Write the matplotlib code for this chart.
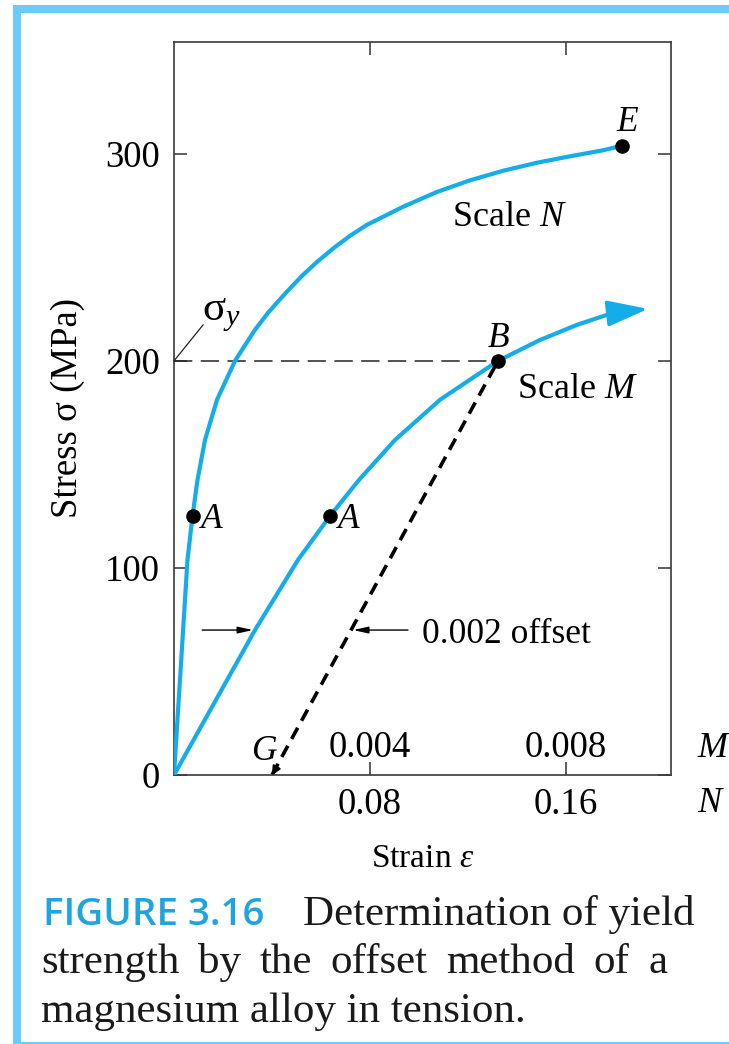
import matplotlib.pyplot as plt
from matplotlib.patches import Rectangle

plt.rcParams['font.family'] = ['Liberation Serif', 'DejaVu Serif']
plt.rcParams['mathtext.fontset'] = 'custom'
plt.rcParams['mathtext.rm'] = 'Liberation Serif'
plt.rcParams['mathtext.it'] = 'Liberation Serif:italic'

# --- data ---
# upper curve, strain on scale N
n_strain = [0, 0.00551, 0.00756, 0.00960, 0.01266, 0.01756, 0.02492, 0.02777,
            0.03308, 0.03839, 0.04493, 0.05187, 0.05841, 0.06535, 0.07189,
            0.07883, 0.09354, 0.10742, 0.12090, 0.13438, 0.14827, 0.16175,
            0.17523, 0.18299]
n_stress = [0, 103.9, 125.1, 142.5, 161.8, 181.2, 200.0, 205.3,
            215.0, 223.2, 231.9, 240.6, 247.8, 254.6, 260.4,
            265.7, 274.4, 281.6, 287.2, 291.8, 295.7, 298.8,
            301.7, 303.9]

# lower curve, strain on scale M (last point = arrow tip)
m_strain = [0, 0.001654, 0.002532, 0.003186, 0.003778, 0.004513, 0.005432,
            0.006617, 0.007475, 0.008230, 0.008966, 0.009680]
m_stress = [0, 70.0, 103.9, 125.1, 142.5, 161.8, 181.2,
            200.0, 210.1, 217.4, 223.2, 225.1]

m_to_n = 20            # 0.004 on scale M sits at 0.08 on scale N
offset = 0.002         # offset strain (scale M), point G
yield_stress = 200
n_ticks = [0.08, 0.16]
m_ticks = [0.004, 0.008]
y_ticks = [0, 100, 200, 300]
arrow_stress = 70      # height of the "0.002 offset" arrows

BLUE = '#14ade9'
FRAME = '#6ccbfd'
CAP_BLUE = '#1ea5e0'

W, H = 729, 1044
fig = plt.figure(figsize=(W / 100, H / 100), dpi=100)


def fx(px):
    return px / W


def fy(py):
    return 1 - py / H


def bar(x, y, w, h):
    fig.add_artist(Rectangle((fx(x), fy(y + h)), w / W, h / H,
                             transform=fig.transFigure, color=FRAME, lw=0))


bar(12.7, 5, 8, 1039)
bar(12.7, 5, 716.3, 8.3)
bar(12.7, 1041.5, 716.3, 2.5)

ax = fig.add_axes([fx(174), fy(775), fx(671) - fx(174), fy(42) - fy(775)])
ax.set_xlim(0, 0.203)
ax.set_ylim(0, 354)

mx = [s * m_to_n for s in m_strain]

# curves
ax.plot(n_strain, n_stress, color=BLUE, lw=3, solid_capstyle='round',
        solid_joinstyle='round', zorder=3)
ax.plot(mx[:-1], m_stress[:-1], color=BLUE, lw=3, solid_capstyle='round',
        solid_joinstyle='round', zorder=3)
ax.annotate('', xy=(mx[-1], m_stress[-1]), xytext=(mx[-2], m_stress[-2]),
            arrowprops=dict(arrowstyle='-|>,head_length=1.25,head_width=0.4',
                            mutation_scale=20, color=BLUE, lw=2.5,
                            shrinkA=0, shrinkB=0), zorder=3)

# offset line G -> B and yield line
gx = offset * m_to_n
bx, by = mx[7], m_stress[7]
ax.plot([gx, bx], [0, by], color='black', lw=2.6, dashes=(3.5, 2.2), zorder=2)
ax.annotate('', xy=(gx, 0), xytext=(gx + 0.0025, 5),
            arrowprops=dict(arrowstyle='-|>,head_length=0.5,head_width=0.25',
                            mutation_scale=10, color='black', lw=1.5,
                            shrinkA=0, shrinkB=0))
ax.plot([0, bx], [yield_stress, yield_stress], color='#222222', lw=1.1,
        dashes=(12, 5.5), zorder=2)

# points
ax.plot([n_strain[2], mx[3], bx, n_strain[-1]],
        [n_stress[2], m_stress[3], by, n_stress[-1]],
        'o', color='black', ms=9.5, zorder=5)

lab = dict(fontsize=25.5, fontstyle='italic', textcoords='offset points',
           va='baseline')
ax.annotate('A', xy=(n_strain[2], n_stress[2]), xytext=(6, -8.6), ha='left', **lab)
ax.annotate('A', xy=(mx[3], m_stress[3]), xytext=(6, -8.6), ha='left', **lab)
ax.annotate('B', xy=(bx, by), xytext=(0, 10), ha='center', **lab)
ax.annotate('E', xy=(n_strain[-1], n_stress[-1]), xytext=(3.6, 10.8), ha='center', **lab)
ax.annotate('G', xy=(gx, 0), xytext=(-5.8, 10.8), ha='center', **lab)

# sigma_y leader
ax.annotate('', xy=(0, yield_stress), xytext=(21, 26), textcoords='offset points',
            arrowprops=dict(arrowstyle='-', lw=0.9, color='#222222',
                            shrinkA=0, shrinkB=0))
ax.annotate(r'$\mathrm{σ}_{y}$', xy=(0, yield_stress), xytext=(20, 29),
            textcoords='offset points', fontsize=31, va='baseline', ha='left')

# curve names
ax.text(0.1136, 265.2, 'Scale $N$', fontsize=26, va='baseline')
ax.text(0.1401, 182.1, 'Scale $M$', fontsize=26, va='baseline')

# 0.002 offset arrows
tip_elastic = mx[1]
tip_offset = gx + (bx - gx) * arrow_stress / by
arr = dict(arrowstyle='-|>,head_length=0.9,head_width=0.2', mutation_scale=10,
           color='black', lw=1, shrinkA=0, shrinkB=1.5)
ax.annotate('', xy=(tip_elastic, arrow_stress), xytext=(-38, 0),
            textcoords='offset points', arrowprops=arr)
ax.annotate('', xy=(tip_offset, arrow_stress), xytext=(41, 0),
            textcoords='offset points', arrowprops=arr)
ax.annotate('0.002 offset', xy=(tip_offset, arrow_stress), xytext=(51, -9),
            textcoords='offset points', fontsize=25.5, va='baseline', ha='left')

# axes styling
ax.set_xticks(n_ticks)
ax.set_xticklabels([f'{t:.2f}' for t in n_ticks])
ax.set_yticks(y_ticks)
ax.tick_params(direction='in', top=True, right=True, length=9.4, width=1.1,
               color='#333333', labelsize=26.5)
ax.tick_params(axis='x', pad=9)
ax.tick_params(axis='y', pad=10)
for s in ax.spines.values():
    s.set_color('#3a3a3a')
    s.set_linewidth(1.2)

for t in m_ticks:
    ax.text(t * m_to_n, 0.0246, f'{t:.3f}', transform=ax.get_xaxis_transform(),
            fontsize=26.5, ha='center', va='baseline')
ax.text(1.053, 0.0246, 'M', transform=ax.transAxes, fontsize=26,
        fontstyle='italic', va='baseline', ha='left')
ax.text(1.053, -0.0505, 'N', transform=ax.transAxes, fontsize=26,
        fontstyle='italic', va='baseline', ha='left')

ax.set_ylabel('Stress σ (MPa)', fontsize=26.5, va='center')
ax.yaxis.set_label_coords(-0.2133, 0.5)
ax.set_xlabel(r'Strain $\varepsilon$', fontsize=24, va='baseline')
ax.xaxis.set_label_coords(0.5, -0.1255)

# caption
fig.text(fx(43), fy(925), 'FIGURE 3.16', family='Open Sans', weight='semibold',
         fontsize=27.7, color=CAP_BLUE, va='baseline')
cap = dict(fontsize=31, va='baseline', color='#1a1a1a')
fig.text(fx(303), fy(925), 'Determination of yield', **cap)
fig.text(fx(41), fy(1022), 'magnesium alloy in tension.', **cap)

# second caption line is justified between x = 41 and x = 667 px
words = 'strength by the offset method of a'.split()
renderer = fig.canvas.get_renderer()
items = [fig.text(0, fy(973), w, **cap) for w in words]
widths = [t.get_window_extent(renderer).width for t in items]
gap = (667 - 41 - sum(widths)) / (len(words) - 1)
pos = 41
for t, w in zip(items, widths):
    t.set_x(fx(pos))
    pos += w + gap

fig.savefig('out.png', dpi=100)
